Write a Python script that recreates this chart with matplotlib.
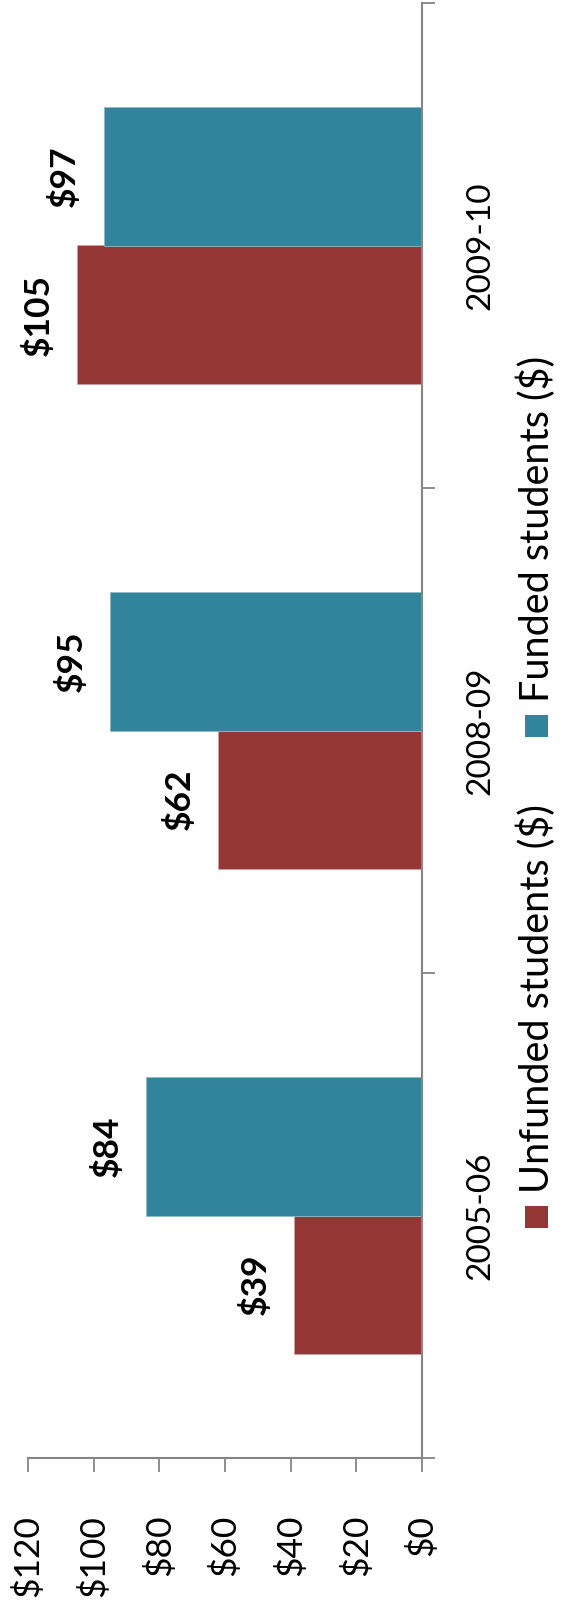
import numpy as np
import matplotlib
matplotlib.use("Agg")
import matplotlib.pyplot as plt
from matplotlib.patches import Rectangle

# data
years = ["2005-06", "2008-09", "2009-10"]
unfunded = [39, 62, 105]
funded = [84, 95, 97]
series_names = ["Unfunded students ($)", "Funded students ($)"]
value_ticks = [0, 20, 40, 60, 80, 100, 120]

RED = "#943634"
TEAL = "#31849B"
AXIS = "#868686"

plt.rcParams["font.family"] = ["Lato", "DejaVu Sans"]

W, H = 562, 1605
fig = plt.figure(figsize=(W / 100, H / 100), dpi=100)


def fx(px):
    return px / W


def fy(px):
    return 1 - px / H


# axes box in pixel coords of the (rotated) chart
ax = fig.add_axes([fx(28), fy(1458), fx(422) - fx(28), fy(3) - fy(1458)])

y = np.arange(len(years))
bh = 0.285
b1 = ax.barh(y - bh / 2, unfunded, height=bh, color=RED, edgecolor="#c9a3a2", linewidth=0.6)
b2 = ax.barh(y + bh / 2, funded, height=bh, color=TEAL, edgecolor="#8fb8c4", linewidth=0.6)

ax.set_xlim(120, 0)
ax.set_ylim(-0.5, len(years) - 0.5)

for s in ["left", "top"]:
    ax.spines[s].set_visible(False)
for s in ["right", "bottom"]:
    ax.spines[s].set_color(AXIS)
    ax.spines[s].set_linewidth(1.5)

# value axis (bottom)
ax.set_xticks(value_ticks)
ax.set_xticklabels(["$%d" % v for v in value_ticks])
ax.tick_params(axis="x", direction="out", length=10, width=1.3, color=AXIS,
               pad=31, labelsize=25.5, labelrotation=90)

# category axis (right)
ax.yaxis.tick_right()
ax.set_yticks(y)
ax.set_yticklabels(years)
ax.set_yticks(np.arange(len(years) + 1) - 0.5, minor=True)
ax.tick_params(axis="y", which="major", length=0, pad=42, labelsize=24, labelrotation=90)
ax.tick_params(axis="y", which="minor", direction="out", length=9, width=1.3, color=AXIS)
for t in ax.get_yticklabels():
    t.set_ha("center")
    t.set_va("center")

# data labels
for bars, vals in [(b1, unfunded), (b2, funded)]:
    for rect, v in zip(bars, vals):
        cy = rect.get_y() + rect.get_height() / 2
        ax.annotate("$%d" % v, xy=(v, cy), xytext=(-28, 0), textcoords="offset points",
                    rotation=90, ha="center", va="center", fontsize=25.5, fontweight="bold")

# legend (rotated, drawn by hand)
legend_items = [(series_names[0], RED, 1217), (series_names[1], TEAL, 726)]
for name, col, cy in legend_items:
    fig.patches.append(Rectangle((fx(525), fy(cy + 11)), fx(23), fy(cy - 11) - fy(cy + 11),
                                 transform=fig.transFigure, facecolor=col, edgecolor="none"))
    fig.text(fx(536), fy(cy - 24), name, rotation=90, ha="center", va="bottom", fontsize=28.5)

fig.savefig("out.png", dpi=100)
